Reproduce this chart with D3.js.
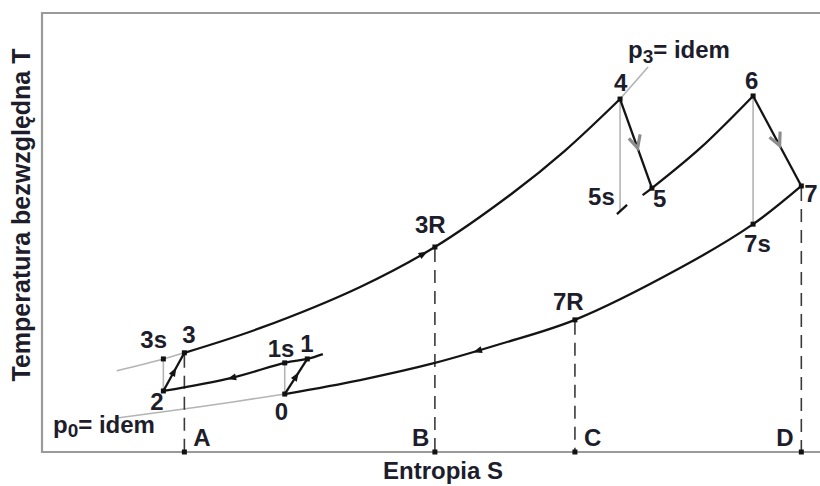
<!DOCTYPE html>
<html>
<head>
<meta charset="utf-8">
<script src="https://cdn.jsdelivr.net/npm/d3@7"></script>
<style>
  body { margin: 0; background: #fff; }
  text { font-family: "Liberation Sans", Arial, sans-serif; font-weight: bold; fill: #1d1d2b; }
</style>
</head>
<body>
<div id="chart"></div>
<script>
// state points of the cycle (entropy s, temperature T, arbitrary units 0-100)
const pointNames = ["0", "1s", "1", "2", "3s", "3", "3R", "4", "5s", "5", "6", "7s", "7", "7R"];
const pointS = [31.2, 31.2, 34.1, 15.6, 15.6, 18.3, 50.5, 74.3, 74.3, 78.4, 91.4, 91.4, 97.6, 68.5];
const pointT = [13.2, 20.3, 21.2, 13.9, 21.2, 22.6, 46.7, 80.4, 54.7, 60.1, 81.1, 51.9, 60.6, 30.1];

// entropy marks on the s axis
const axisNames = ["A", "B", "C", "D"];
const axisS = [18.3, 50.5, 68.5, 97.6];
// which state point each dashed drop line starts from
const axisFrom = ["3", "3R", "7R", "7"];

// isobars [s, T]
const isobarP3 = [[18.3, 22.6], [28.0, 28.2], [40.9, 37.6], [50.5, 46.7], [60.5, 59.0], [67.2, 68.6], [74.3, 80.4]];
const isobarP3Low = [[9.6, 18.5], [15.6, 21.2], [18.3, 22.6]];
const isobarP3High = [[74.3, 80.4], [77.9, 87.7]];
const isobarP0 = [[97.6, 60.6], [91.4, 51.9], [82.0, 41.9], [68.5, 30.1], [58.9, 24.6], [50.5, 20.3], [40.9, 16.4], [31.2, 13.2]];
const isobarP0Low = [[9.4, 7.7], [20.3, 10.3], [31.2, 13.2]];
const isobarP1 = [[36.1, 22.3], [34.1, 21.2], [31.2, 20.3], [24.4, 16.9], [15.6, 13.9]];
const isobarP4 = [[77.2, 58.5], [78.4, 60.1], [84.6, 69.2], [91.4, 81.1]];
const isobarP4Tick = [[73.9, 54.2], [75.2, 56.3]];

// processes
const isentropic = [["0", "1s"], ["2", "3s"], ["4", "5s"], ["6", "7s"]];
const realCompression = [["0", "1"], ["2", "3"]];
const realExpansion = [["4", "5"], ["6", "7"]];

// arrows on curves: entropy where they sit
const arrowP3S = 49.0;
const arrowP0S = 56.0;
const arrowP1S = 24.4;

const width = 820, height = 486;
const margin = { top: 13, right: 0, bottom: 34, left: 42 };

const svg = d3.select("#chart").append("svg")
    .attr("width", width)
    .attr("height", height);

const x = d3.scaleLinear().domain([0, 100]).range([margin.left, width - margin.right]);
const y = d3.scaleLinear().domain([0, 100]).range([height - margin.bottom, margin.top]);

const pt = {};
pointNames.forEach((n, i) => pt[n] = { s: pointS[i], T: pointT[i] });

// frame (left, top, bottom)
const frame = svg.append("g").attr("stroke", "#9a9a9a").attr("stroke-width", 2.2).attr("fill", "none");
frame.append("path").attr("d", `M${x(100)},${y(100)} H${x(0)} V${y(0)} H${x(100)}`);

const line = d3.line().x(d => x(d[0])).y(d => y(d[1])).curve(d3.curveCatmullRom);

// gray helper lines
const gray = svg.append("g").attr("stroke", "#b4b4b4").attr("stroke-width", 1.6).attr("fill", "none");
[isobarP3Low, isobarP3High, isobarP0Low].forEach(c => gray.append("path").attr("d", line(c)));
isentropic.forEach(([a, b]) => gray.append("line")
    .attr("x1", x(pt[a].s)).attr("y1", y(pt[a].T))
    .attr("x2", x(pt[b].s)).attr("y2", y(pt[b].T)));

// dashed drop lines
const dashed = svg.append("g").attr("stroke", "#3a3a3a").attr("stroke-width", 1.6).attr("stroke-dasharray", "13,8");
axisFrom.forEach((n, i) => dashed.append("line")
    .attr("x1", x(axisS[i])).attr("y1", y(pt[n].T) + 2)
    .attr("x2", x(axisS[i])).attr("y2", y(0)));

// black curves
const black = svg.append("g").attr("stroke", "#141414").attr("stroke-width", 2.3).attr("fill", "none");
const pP3 = black.append("path").attr("d", line(isobarP3));
const pP0 = black.append("path").attr("d", line(isobarP0));
const pP1 = black.append("path").attr("d", line(isobarP1));
black.append("path").attr("d", line(isobarP4));
black.append("path").attr("d", line(isobarP4Tick));
realCompression.concat(realExpansion).forEach(([a, b]) => black.append("line")
    .attr("x1", x(pt[a].s)).attr("y1", y(pt[a].T))
    .attr("x2", x(pt[b].s)).attr("y2", y(pt[b].T)));

// small filled arrow head
function arrowHead(px, py, angle) {
    svg.append("path")
        .attr("d", "M5,0 L-4,-3.5 L-4,3.5 Z")
        .attr("fill", "#141414")
        .attr("transform", `translate(${px},${py}) rotate(${angle})`);
}

// arrow on a curve at a given entropy, following the path direction
function arrowOnPath(path, sVal) {
    const node = path.node();
    const total = node.getTotalLength();
    const target = x(sVal);
    let best = 0, bestD = Infinity;
    for (let l = 0; l <= total; l += 0.5) {
        const p = node.getPointAtLength(l);
        const d = Math.abs(p.x - target);
        if (d < bestD) { bestD = d; best = l; }
    }
    const p0 = node.getPointAtLength(Math.max(0, best - 2));
    const p1 = node.getPointAtLength(Math.min(total, best + 2));
    const ang = Math.atan2(p1.y - p0.y, p1.x - p0.x) * 180 / Math.PI;
    const p = node.getPointAtLength(best);
    arrowHead(p.x, p.y, ang);
}
arrowOnPath(pP3, arrowP3S);
arrowOnPath(pP0, arrowP0S);
arrowOnPath(pP1, arrowP1S);

realCompression.forEach(([a, b]) => {
    const x1 = x(pt[a].s), y1 = y(pt[a].T), x2 = x(pt[b].s), y2 = y(pt[b].T);
    arrowHead((x1 + x2) / 2, (y1 + y2) / 2, Math.atan2(y2 - y1, x2 - x1) * 180 / Math.PI);
});

// gray chevrons on the expansions
realExpansion.forEach(([a, b]) => {
    const x1 = x(pt[a].s), y1 = y(pt[a].T), x2 = x(pt[b].s), y2 = y(pt[b].T);
    const t = 0.55;
    svg.append("path")
        .attr("d", "M-12,-7 L0,0 L-12,5")
        .attr("fill", "none")
        .attr("stroke", "#8c8c8c")
        .attr("stroke-width", 3.2)
        .attr("transform", `translate(${x1 + (x2 - x1) * t},${y1 + (y2 - y1) * t}) rotate(${Math.atan2(y2 - y1, x2 - x1) * 180 / Math.PI})`);
});

// point markers
svg.append("g").selectAll("rect")
    .data(pointNames.filter(n => n !== "5s"))
    .join("rect")
    .attr("x", n => x(pt[n].s) - 2.5)
    .attr("y", n => y(pt[n].T) - 2.5)
    .attr("width", 5).attr("height", 5)
    .attr("fill", "#111");
svg.append("g").selectAll("rect")
    .data(axisS)
    .join("rect")
    .attr("x", d => x(d) - 2.5)
    .attr("y", y(0) - 2.5)
    .attr("width", 5).attr("height", 5)
    .attr("fill", "#111");

// labels
const labelOffset = {
    "0": [-10, 26], "1s": [-17, -6], "1": [-7, -7], "2": [-13, 19], "3s": [-23, -11], "3": [-2, -10],
    "3R": [-20, -14], "4": [-6, -8], "5s": [-32, -7], "5": [1, 19], "6": [-8, -7], "7s": [-9, 28],
    "7": [3, 16], "7R": [-22, -10]
};
const labels = svg.append("g").attr("font-size", 24);
pointNames.forEach(n => labels.append("text")
    .attr("x", x(pt[n].s) + labelOffset[n][0])
    .attr("y", y(pt[n].T) + labelOffset[n][1])
    .text(n));

const axisOffset = { "A": 9, "B": -23, "C": 9, "D": -25 };
axisNames.forEach((n, i) => labels.append("text")
    .attr("x", x(axisS[i]) + axisOffset[n])
    .attr("y", y(0) - 6)
    .text(n));

// pressure labels
const p0 = labels.append("text").attr("x", 53).attr("y", 433);
p0.append("tspan").text("p");
p0.append("tspan").attr("font-size", 19).attr("dy", 4).text("0");
p0.append("tspan").attr("dy", -4).text("= idem");

const p3 = labels.append("text").attr("x", 628).attr("y", 58);
p3.append("tspan").text("p");
p3.append("tspan").attr("font-size", 19).attr("dy", 5).text("3");
p3.append("tspan").attr("dy", -5).text("= idem");

// axis titles
svg.append("text")
    .attr("x", 443).attr("y", 479)
    .attr("text-anchor", "middle")
    .attr("font-size", 24)
    .text("Entropia S");

svg.append("text")
    .attr("transform", "translate(30,215) rotate(-90)")
    .attr("text-anchor", "middle")
    .attr("font-size", 25)
    .text("Temperatura bezwzględna T");
</script>
</body>
</html>
